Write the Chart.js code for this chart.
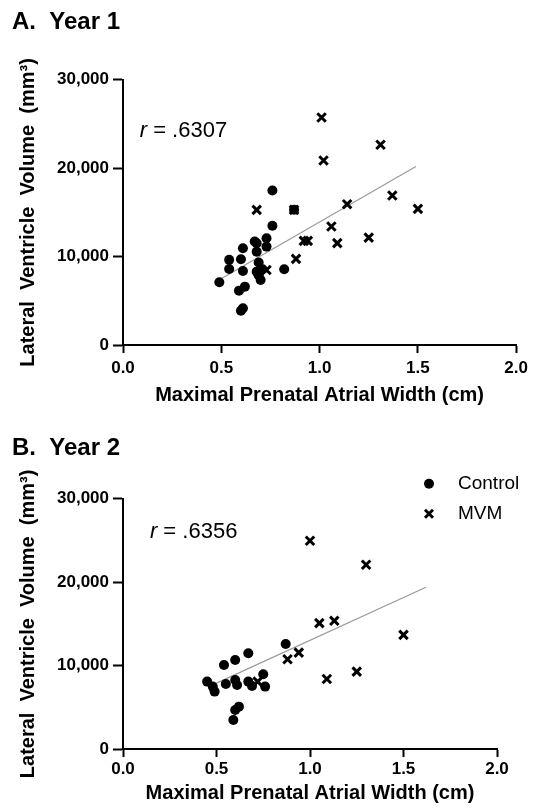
<!DOCTYPE html>
<html>
<head>
<meta charset="utf-8">
<script src="https://cdn.jsdelivr.net/npm/chart.js@4/dist/chart.umd.min.js"></script>
<style>
  body { margin: 0; background: #fff; }
  .panel { position: relative; width: 533px; }
</style>
</head>
<body>
<div class="panel" style="height:420px"><canvas id="chartA"></canvas></div>
<div class="panel" style="height:392px"><canvas id="chartB"></canvas></div>
<script>
// Year 1
const controlX1 = [0.49, 0.54, 0.54, 0.60, 0.61, 0.61, 0.59, 0.62, 0.61, 0.60, 0.67, 0.68, 0.68, 0.69, 0.68, 0.70, 0.73, 0.73, 0.71, 0.76, 0.76, 0.82, 0.87, 0.69];
const controlY1 = [7100, 9630, 8600, 9700, 10950, 8380, 6150, 6600, 4150, 3870, 11700, 11510, 10560, 9330, 8300, 7360, 12080, 11130, 8570, 13480, 17480, 8570, 15290, 7900];
const mvmX1 = [0.68, 0.73, 0.87, 1.01, 1.02, 1.31, 1.14, 1.37, 1.50, 1.06, 1.09, 1.25, 0.92, 0.94, 0.88];
const mvmY1 = [15290, 8490, 15290, 25740, 20870, 22650, 15930, 16910, 15400, 13400, 11520, 12150, 11780, 11780, 9740];
const fitX1 = [0.49, 1.49];
const fitY1 = [7370, 20200];

// Year 2
const controlX2 = [0.45, 0.49, 0.48, 0.54, 0.55, 0.60, 0.60, 0.61, 0.62, 0.60, 0.59, 0.67, 0.67, 0.69, 0.75, 0.76, 0.87];
const controlY2 = [8080, 6880, 7480, 10080, 7800, 8280, 10680, 7680, 5080, 4680, 3480, 11480, 8080, 7560, 8960, 7480, 12600];
const mvmX2 = [0.72, 0.88, 0.94, 1.00, 1.05, 1.13, 1.09, 1.30, 1.50, 1.25];
const mvmY2 = [8080, 10760, 11560, 24970, 15090, 15370, 8400, 22090, 13690, 9280];
const fitX2 = [0.50, 1.62];
const fitY2 = [7900, 19400];

const xTicks = [0, 0.5, 1.0, 1.5, 2.0];
const yTicks = [0, 10000, 20000, 30000];

Chart.defaults.font.family = '"Liberation Sans", Arial, sans-serif';
Chart.defaults.color = '#000';

const pts = (xs, ys) => xs.map((x, i) => ({ x: x, y: ys[i] }));

// r value text, placed in data units
const rLabel = {
  id: 'rLabel',
  afterDraw(chart) {
    const o = chart.options.plugins.rLabel;
    const ctx = chart.ctx;
    const px = chart.scales.x.getPixelForValue(o.x);
    const py = chart.scales.y.getPixelForValue(o.y);
    ctx.save();
    ctx.fillStyle = '#000';
    ctx.textBaseline = 'middle';
    ctx.textAlign = 'left';
    ctx.font = 'italic 22px "Liberation Sans", Arial, sans-serif';
    ctx.fillText('r', px, py);
    const w = ctx.measureText('r').width;
    ctx.font = '22px "Liberation Sans", Arial, sans-serif';
    ctx.fillText(' = ' + o.text, px + w, py);
    ctx.restore();
  }
};

// small legend in the upper right of panel B
const cornerLegend = {
  id: 'cornerLegend',
  afterDraw(chart) {
    const o = chart.options.plugins.cornerLegend;
    if (!o || !o.show) return;
    const ctx = chart.ctx;
    const a = chart.chartArea;
    const mx = a.right - 68, tx = a.right - 39;
    ctx.save();
    ctx.fillStyle = '#000';
    ctx.strokeStyle = '#000';
    // Control
    let y = a.top - 15;
    ctx.beginPath();
    ctx.arc(mx, y, 5, 0, Math.PI * 2);
    ctx.fill();
    // MVM
    let y2 = a.top + 15;
    ctx.lineWidth = 3;
    ctx.beginPath();
    ctx.moveTo(mx - 4, y2 - 4); ctx.lineTo(mx + 4, y2 + 4);
    ctx.moveTo(mx + 4, y2 - 4); ctx.lineTo(mx - 4, y2 + 4);
    ctx.stroke();
    ctx.font = '19px "Liberation Sans", Arial, sans-serif';
    ctx.textBaseline = 'middle';
    ctx.fillText('Control', tx, y);
    ctx.fillText('MVM', tx, y2);
    ctx.restore();
  }
};

function makeChart(id, cfg) {
  return new Chart(document.getElementById(id), {
    type: 'scatter',
    data: {
      datasets: [
        {
          label: 'Control',
          data: pts(cfg.cx, cfg.cy),
          pointStyle: 'circle',
          pointRadius: 5,
          pointHoverRadius: 5,
          backgroundColor: '#000',
          borderColor: '#000',
          borderWidth: 0
        },
        {
          label: 'MVM',
          data: pts(cfg.mx, cfg.my),
          pointStyle: 'crossRot',
          pointRadius: 6,
          pointHoverRadius: 6,
          borderColor: '#000',
          borderWidth: 3
        },
        {
          type: 'line',
          label: 'fit',
          data: pts(cfg.fx, cfg.fy),
          borderColor: '#9a9a9a',
          borderWidth: 1.2,
          pointRadius: 0,
          fill: false
        }
      ]
    },
    options: {
      responsive: true,
      maintainAspectRatio: false,
      animation: false,
      layout: { padding: { left: 12, right: cfg.padRight, top: 0, bottom: 0 } },
      scales: {
        x: {
          type: 'linear',
          min: 0,
          max: 2,
          afterBuildTicks: s => { s.ticks = xTicks.map(v => ({ value: v })); },
          afterFit: s => { s.height = cfg.xHeight; },
          ticks: {
            font: { size: 17, weight: 'bold' },
            padding: cfg.xTickPad,
            callback: v => v.toFixed(1)
          },
          border: { color: '#000', width: 2 },
          grid: { drawOnChartArea: false, tickLength: 8, tickWidth: 2, tickColor: '#000', color: '#000' },
          title: {
            display: true,
            text: 'Maximal Prenatal Atrial Width (cm)',
            font: { size: 20, weight: 'bold' },
            padding: { top: 0, bottom: cfg.xTitlePad }
          }
        },
        y: {
          min: 0,
          max: 30000,
          afterBuildTicks: s => { s.ticks = yTicks.map(v => ({ value: v })); },
          afterFit: s => { s.width = 111; },
          ticks: {
            font: { size: 17, weight: 'bold' },
            padding: 4,
            callback: v => v.toLocaleString('en-US')
          },
          border: { color: '#000', width: 2 },
          grid: { drawOnChartArea: false, tickLength: 10, tickWidth: 2, tickColor: '#000', color: '#000' },
          title: {
            display: true,
            text: 'Lateral  Ventricle  Volume  (mm\u00B3)',
            font: { size: 20, weight: 'bold' },
            padding: { top: 4, bottom: 0 }
          }
        }
      },
      plugins: {
        legend: { display: false },
        tooltip: { enabled: false },
        title: {
          display: true,
          text: cfg.title,
          align: 'start',
          font: { size: 24, weight: 'bold' },
          padding: { top: cfg.titleTop, bottom: cfg.titleBottom }
        },
        rLabel: cfg.r,
        cornerLegend: { show: cfg.legend }
      }
    },
    plugins: [rLabel, cornerLegend]
  });
}

makeChart('chartA', {
  cx: controlX1, cy: controlY1, mx: mvmX1, my: mvmY1, fx: fitX1, fy: fitY1,
  title: 'A.  Year 1', titleTop: 8, titleBottom: 43,
  padRight: 13, xHeight: 75, xTickPad: 5, xTitlePad: 13,
  r: { x: 0.085, y: 24230, text: '.6307' },
  legend: false
});

makeChart('chartB', {
  cx: controlX2, cy: controlY2, mx: mvmX2, my: mvmY2, fx: fitX2, fy: fitY2,
  title: 'B.  Year 2', titleTop: 14, titleBottom: 36,
  padRight: 36, xHeight: 63, xTickPad: 2, xTitlePad: 7,
  r: { x: 0.144, y: 26050, text: '.6356' },
  legend: true
});
</script>
</body>
</html>
